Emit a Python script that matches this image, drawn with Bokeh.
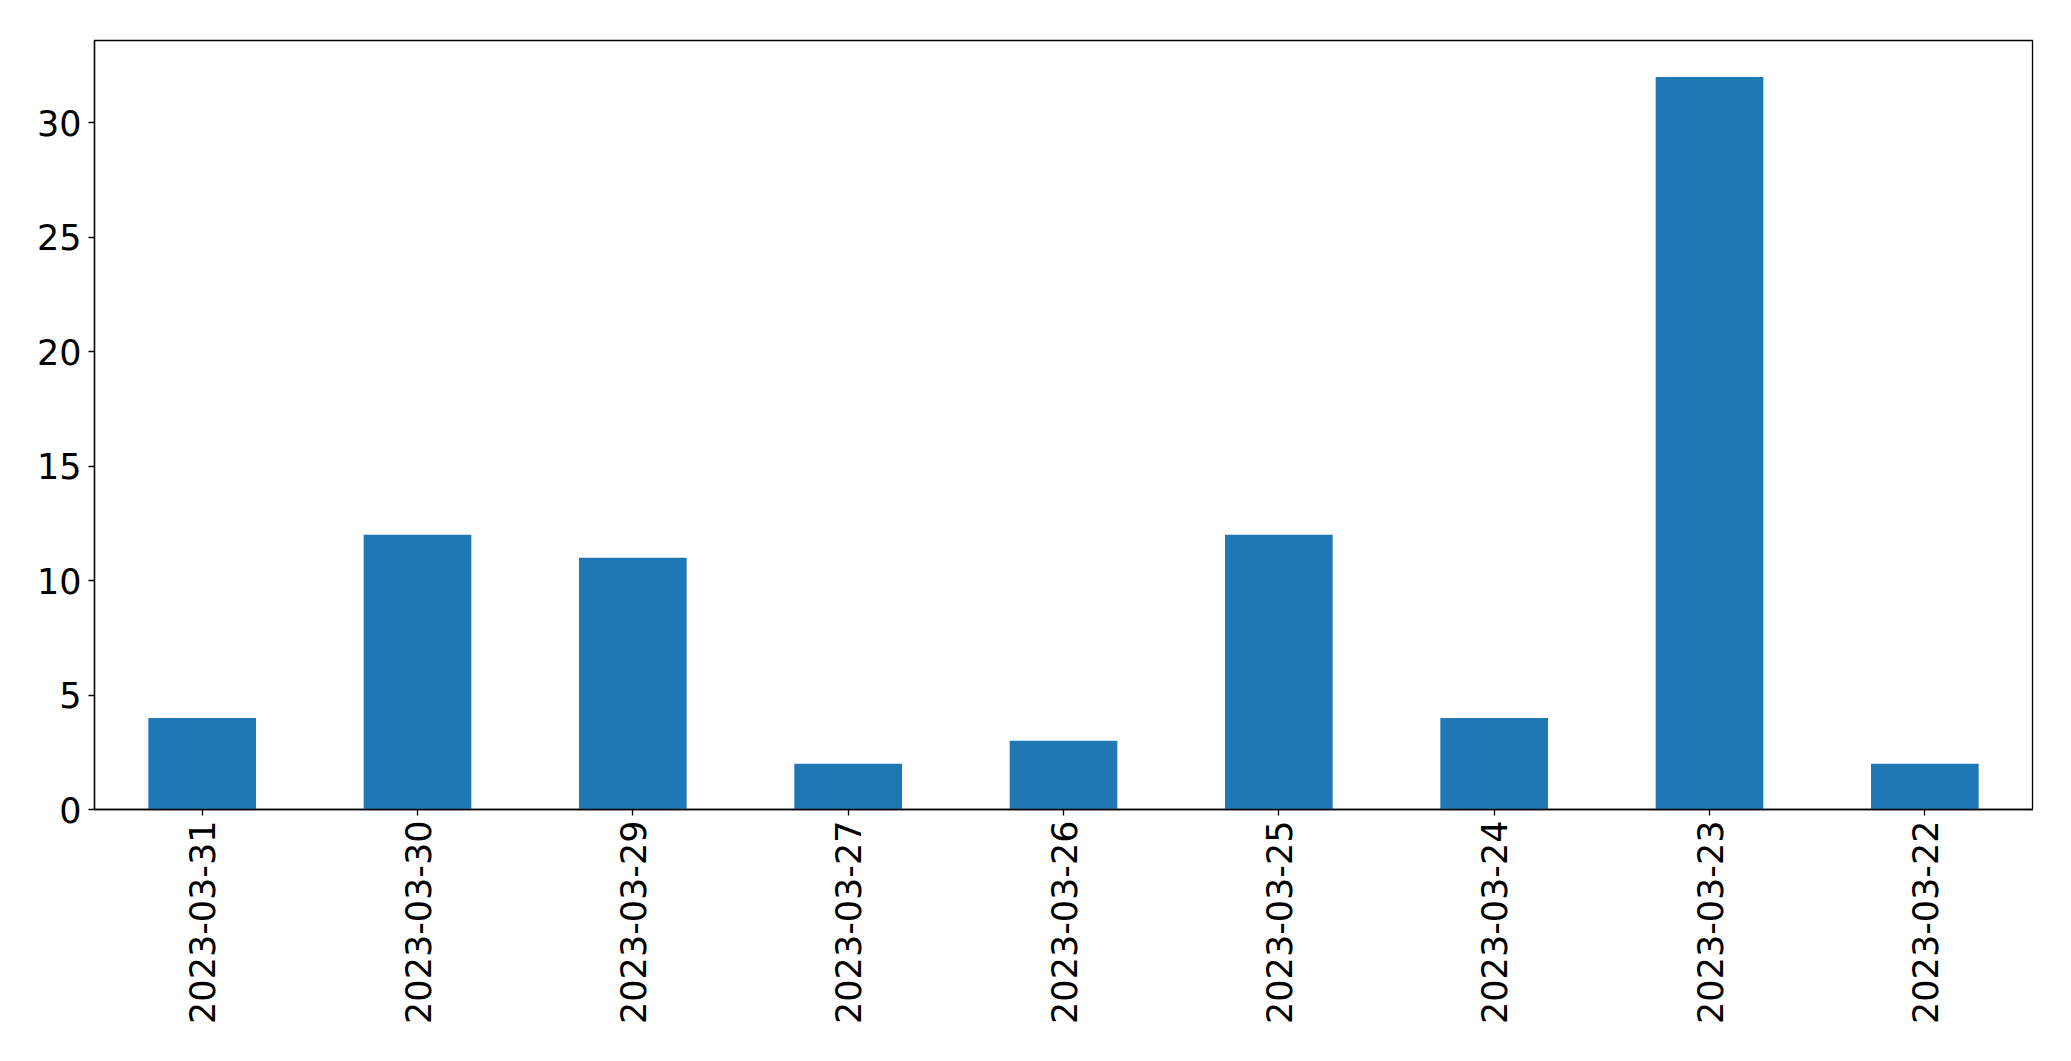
from bokeh.plotting import figure
from bokeh.models import Range1d, FixedTicker, ColumnDataSource
from bokeh.embed import file_html
from bokeh.resources import INLINE
import math

dates = ["2023-03-31", "2023-03-30", "2023-03-29", "2023-03-27", "2023-03-26",
         "2023-03-25", "2023-03-24", "2023-03-23", "2023-03-22"]
counts = [4, 12, 11, 2, 3, 12, 4, 32, 2]
y_ticks = [0, 5, 10, 15, 20, 25, 30]

src = ColumnDataSource(dict(date=dates, count=counts))

p = figure(x_range=dates, y_range=Range1d(0, 33.6), width=2063, height=1053,
           output_backend="svg", toolbar_location=None,
           min_border_left=94, min_border_top=40, min_border_right=31, min_border_bottom=244)
p.vbar(x="date", top="count", width=0.5, source=src, color="#1f77b4", line_color=None)

p.xgrid.visible = False
p.ygrid.visible = False
p.outline_line_color = "black"
p.outline_line_width = 1.3
p.background_fill_color = "white"
p.border_fill_color = "white"

for ax in (p.xaxis[0], p.yaxis[0]):
    ax.axis_line_color = "black"
    ax.axis_line_width = 1.3
    ax.major_tick_line_color = "black"
    ax.major_tick_line_width = 1.3
    ax.major_tick_out = 6
    ax.major_tick_in = 0
    ax.minor_tick_line_color = None
    ax.major_label_text_font = "DejaVu Sans"
    ax.major_label_text_font_size = "35px"
    ax.major_label_text_color = "black"

p.yaxis[0].ticker = FixedTicker(ticks=y_ticks)
p.yaxis[0].major_label_standoff = 7
p.xaxis[0].major_label_orientation = math.pi / 2
p.xaxis[0].major_label_standoff = 5

open("out.html", "w").write(file_html(p, INLINE))
